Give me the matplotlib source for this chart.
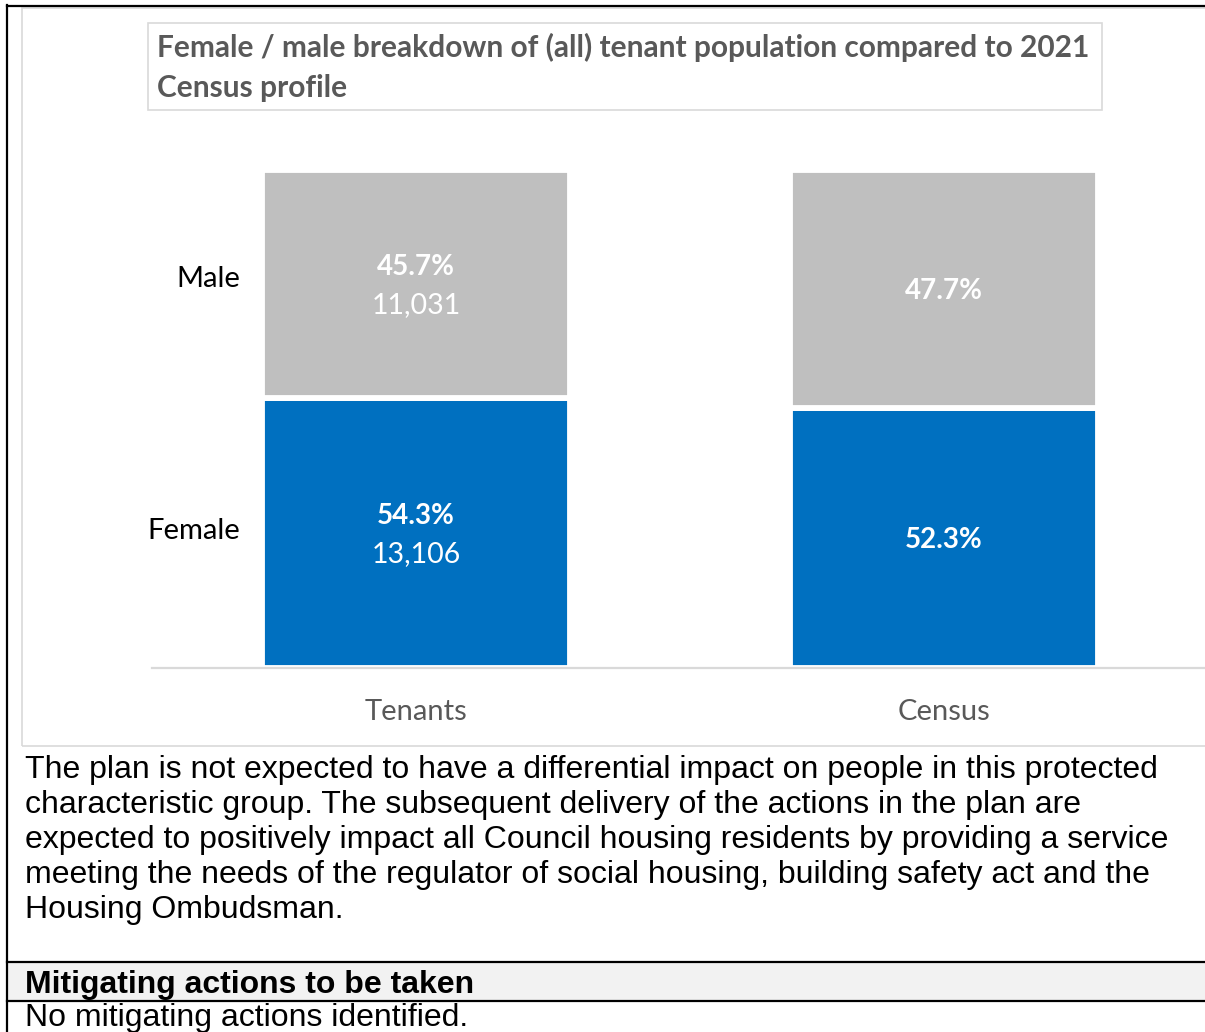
import matplotlib.pyplot as plt
from matplotlib import transforms
from matplotlib.lines import Line2D
from matplotlib.patches import Rectangle

# ---- data ----
groups = ['Tenants', 'Census']
female_pct = [54.3, 52.3]
male_pct = [45.7, 47.7]
female_count = [13106, None]
male_count = [11031, None]

TITLE = ['Female / male breakdown of (all) tenant population compared to 2021',
         'Census profile']
PARAGRAPH = [
    'The plan is not expected to have a differential impact on people in this protected',
    'characteristic group. The subsequent delivery of the actions in the plan are',
    'expected to positively impact all Council housing residents by providing a service',
    'meeting the needs of the regulator of social housing, building safety act and the',
    'Housing Ombudsman.',
]
HEADING = 'Mitigating actions to be taken'
NOTE = 'No mitigating actions identified.'

BLUE = '#0070C0'
GREY = '#BFBFBF'
TEXT_GREY = '#595959'
LINE_GREY = '#D9D9D9'
CHART_FONT = 'Lato'
DOC_FONT = 'Liberation Sans'

W, H = 1205, 1032


def fx(x):
    return x / W


def fy(y):
    return 1 - y / H


fig = plt.figure(figsize=(W / 100, H / 100), dpi=100)

# document table borders
fig.add_artist(Line2D([fx(7), fx(7)], [fy(5), fy(H + 5)], color='black', lw=1.6))
fig.add_artist(Line2D([fx(7), fx(W + 5)], [fy(6), fy(6)], color='black', lw=1.6))

# chart frame
fig.add_artist(Rectangle((fx(22), fy(746)), fx(W + 20) - fx(22), fy(8) - fy(746),
                         transform=fig.transFigure, fill=False, ec=LINE_GREY, lw=1.2))

# title box
fig.add_artist(Rectangle((fx(148), fy(110)), fx(1102) - fx(148), fy(23) - fy(110),
                         transform=fig.transFigure, fill=False, ec=LINE_GREY, lw=1.2))
for line, base in zip(TITLE, [57, 97]):
    fig.text(fx(157), fy(base), line, family=CHART_FONT, fontweight='bold',
             fontsize=21.5, color=TEXT_GREY, ha='left', va='baseline')

# stacked bars
ax = fig.add_axes([fx(152), fy(668), fx(1208) - fx(152), fy(170) - fy(668)])
x = range(len(groups))
ax.bar(x, female_pct, width=0.585, color=BLUE, edgecolor='white', linewidth=4.2)
ax.bar(x, male_pct, bottom=female_pct, width=0.585, color=GREY,
       edgecolor='white', linewidth=4.2)
ax.set_xlim(-0.5, 1.5)
ax.set_ylim(0, 100)
ax.set_yticks([])
ax.set_xticks(list(x))
ax.set_xticklabels(groups, family=CHART_FONT, fontsize=21, color=TEXT_GREY)
ax.tick_params(axis='x', length=0, pad=22)
for side in ['top', 'left', 'right']:
    ax.spines[side].set_visible(False)
ax.spines['bottom'].set_color(LINE_GREY)
ax.spines['bottom'].set_linewidth(1.6)
ax.spines['bottom'].set_zorder(5)

# segment labels: bold percentage, count underneath where known
for i in x:
    segments = [(female_pct[i] / 2, female_pct[i], female_count[i]),
                (female_pct[i] + male_pct[i] / 2, male_pct[i], male_count[i])]
    for mid, pct, count in segments:
        if count is None:
            ax.annotate(f'{pct:.1f}%', xy=(i, mid), xytext=(0, -1.5), textcoords='offset points',
                        ha='center', va='center', family=CHART_FONT, fontweight='bold',
                        fontsize=20, color='white')
        else:
            ax.annotate(f'{pct:.1f}%', xy=(i, mid), xytext=(0, 12), textcoords='offset points',
                        ha='center', va='center', family=CHART_FONT, fontweight='bold',
                        fontsize=20, color='white')
            ax.annotate(f'{count:,}', xy=(i, mid), xytext=(0, -15), textcoords='offset points',
                        ha='center', va='center', family=CHART_FONT, fontsize=20.5,
                        color='white')

# series names beside the first bar
side = transforms.blended_transform_factory(fig.transFigure, ax.transData)
ax.annotate('Female', xy=(fx(240), female_pct[0] / 2), xycoords=side,
            xytext=(0, 1.5), textcoords='offset points', ha='right', va='center',
            family=CHART_FONT, fontsize=21, color='black')
ax.annotate('Male', xy=(fx(240), female_pct[0] + male_pct[0] / 2), xycoords=side,
            xytext=(0, 3.5), textcoords='offset points', ha='right', va='center',
            family=CHART_FONT, fontsize=21, color='black')

# paragraph under the chart
for k, line in enumerate(PARAGRAPH):
    fig.text(fx(25), fy(778 + 35 * k), line, family=DOC_FONT, fontsize=23,
             color='black', ha='left', va='baseline')

# heading row
fig.add_artist(Rectangle((fx(7), fy(1001)), fx(W + 5) - fx(7), fy(963) - fy(1001),
                         transform=fig.transFigure, fc='#F2F2F2', ec='none'))
fig.add_artist(Line2D([fx(7), fx(W + 5)], [fy(962), fy(962)], color='black', lw=1.6))
fig.add_artist(Line2D([fx(7), fx(W + 5)], [fy(1001), fy(1001)], color='black', lw=1.6))
fig.text(fx(25), fy(993), HEADING, family=DOC_FONT, fontweight='bold', fontsize=23,
         color='black', ha='left', va='baseline')
fig.text(fx(25), fy(1026), NOTE, family=DOC_FONT, fontsize=23,
         color='black', ha='left', va='baseline')

fig.savefig('out.png', dpi=100, facecolor='white')
